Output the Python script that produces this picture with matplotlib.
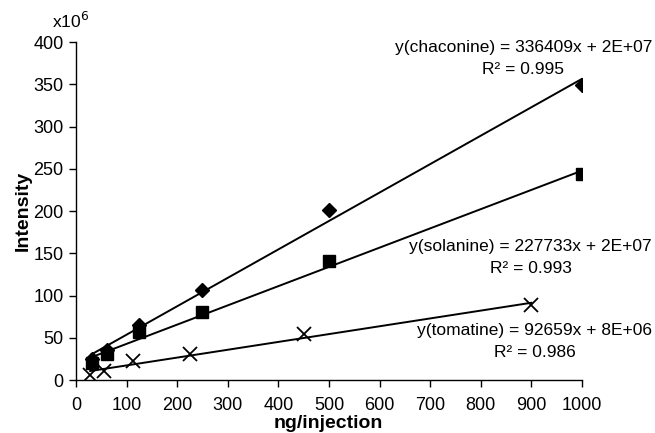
import numpy as np
import matplotlib
matplotlib.use("Agg")
import matplotlib.pyplot as plt

plt.rcParams['font.family'] = ['Liberation Sans', 'DejaVu Sans']

# data (intensity in units of 1e6)
x_cha = [31, 62, 125, 250, 500, 1000]
y_cha = [25, 36, 65, 107, 201, 349]
x_sol = [31, 62, 125, 250, 500, 1000]
y_sol = [20, 31, 57, 80, 141, 244]
x_tom = [28, 56, 113, 225, 450, 900]
y_tom = [6, 11, 22, 30.5, 54, 89]

slopes = [336409, 227733, 92659]
intercepts = [2e7, 2e7, 8e6]
r2 = [0.995, 0.993, 0.986]
names = ['chaconine', 'solanine', 'tomatine']
intercept_txt = ['2E+07', '2E+07', '8E+06']

xticks = [0, 100, 200, 300, 400, 500, 600, 700, 800, 900, 1000]
yticks = [0, 50, 100, 150, 200, 250, 300, 350, 400]

fig = plt.figure(figsize=(6.55, 4.33), dpi=100)
ax = fig.add_axes([0.116, 0.1224, 0.7725, 0.7806])

series = [(x_cha, y_cha, 'D', 7.5), (x_sol, y_sol, 's', 8.5), (x_tom, y_tom, 'x', 10)]
for (xs, ys, m, ms), k, b in zip(series, slopes, intercepts):
    ax.plot(xs, ys, linestyle='none', marker=m, markersize=ms, color='black',
            markeredgewidth=1.3 if m == 'x' else 1, zorder=3)
    xl = np.array([xs[0], xs[-1]])
    ax.plot(xl, (k * xl + b) / 1e6, color='black', lw=1.4, zorder=2)

ax.set_xlim(0, 1000)
ax.set_ylim(0, 400)
ax.set_xticks(xticks)
ax.set_yticks(yticks)
ax.tick_params(direction='out', length=5, width=1, labelsize=13, colors='black', pad=4)
ax.tick_params(axis='x', pad=7)
for s in ['top', 'right']:
    ax.spines[s].set_visible(False)
for s in ['left', 'bottom']:
    ax.spines[s].set_linewidth(1)

ax.set_ylabel('Intensity', fontsize=14, fontweight='bold', labelpad=1)
fig.text(0.502, 1 / 433, 'ng/injection', ha='center', va='bottom', fontsize=14, fontweight='bold')
fig.text(0.079, 1 - 21 / 433, 'x10$^6$', ha='left', va='center', fontsize=12.5)

pos = [(652, 58.5), (652, 257.5), (652, 341.5)]
for (px, py), n, k, it, r in zip(pos, names, slopes, intercept_txt, r2):
    txt = f'y({n}) = {k}x + {it}\nR² = {r:.3f}'
    fig.text(px / 655, 1 - py / 433, txt, ha='right', va='center', multialignment='center',
             fontsize=12.5, linespacing=1.55)

fig.savefig('out.png', dpi=100)
